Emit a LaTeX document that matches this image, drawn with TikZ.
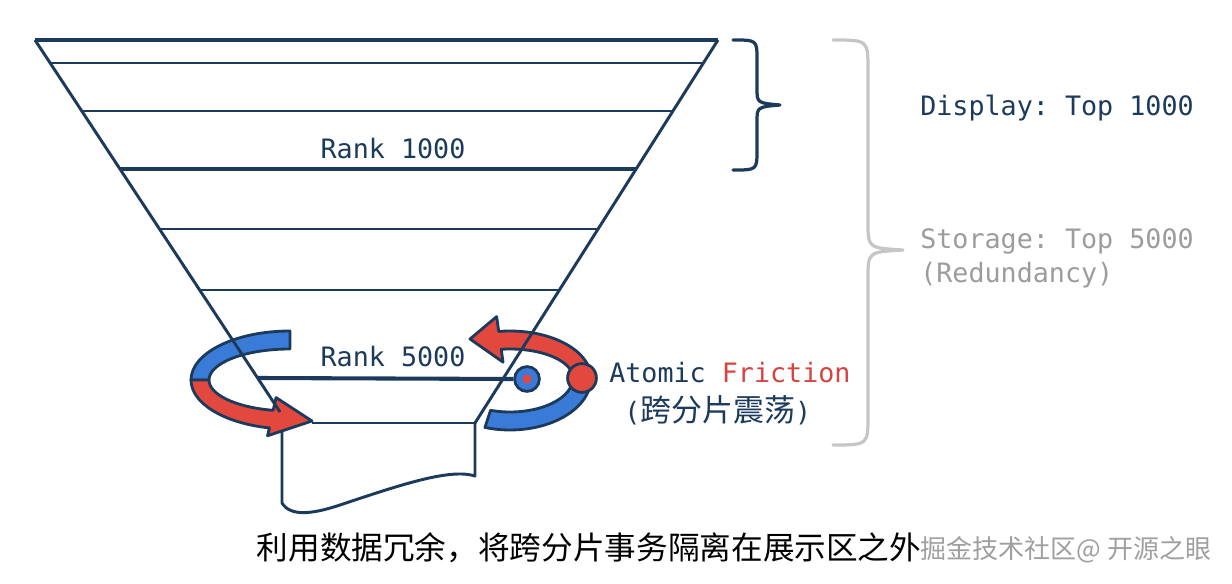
\documentclass[tikz,border=0pt]{standalone}
\usepackage{fontspec}
\setmonofont{DejaVu Sans Mono}
\newfontfamily\cjk{Noto Sans CJK SC}
\usetikzlibrary{calc}
\definecolor{colorMarino}{HTML}{1B3A5C}
\definecolor{colorAzul}{HTML}{3A7BD8}
\definecolor{colorRojo}{HTML}{E2483E}
\definecolor{colorRojoTexto}{HTML}{D6443F}
\definecolor{colorGris}{HTML}{C6C6C6}
\definecolor{colorGrisTexto}{HTML}{9C9C9C}

\begin{document}
\begin{tikzpicture}[
        x=0.025cm, y=-0.025cm,
        borde/.style={draw=colorMarino, line width=2.1pt, line join=round},
        fina/.style={draw=colorMarino, line width=1.3pt},
        gruesa/.style={draw=colorMarino, line width=2.9pt},
        cinta/.style={draw=colorMarino, line width=2pt, line join=round},
        llave/.style={line width=2.3pt, line cap=round, line join=round},
        txt/.style={font=\ttfamily\fontsize{19}{24}\selectfont, text=colorMarino, inner sep=0pt}
    ]
    \useasboundingbox (0,0) rectangle (1232,584);
    % esquinas del embudo
    \coordinate (ai) at (35,40);
    \coordinate (ad) at (718,40);
    \coordinate (bi) at (258,378);
    \coordinate (bd) at (503,378);
    \coordinate (L) at (290,380);
    \coordinate (R) at (510,378);

    % caja inferior
    \draw[fina] (312,423) -- (475,423);
    \draw[borde] (475,423) -- (475,476) .. controls (450,468) and (400,485) .. (340,505)
        .. controls (310,515) and (290,516) .. (282,503) -- (282,430);

    % cinta izquierda
    \filldraw[cinta, fill=colorAzul] ($(L)+(270:99 and 49)$) arc[start angle=270, end angle=180, x radius=99, y radius=49]
        -- ($(L)+(180:81 and 31)$) arc[start angle=180, end angle=270, x radius=81, y radius=31] -- cycle;
    \filldraw[cinta, fill=colorRojo] ($(L)+(180:99 and 49)$) arc[start angle=180, end angle=102, x radius=99, y radius=49]
        -- ($(L)+(102:108 and 57)$) -- (312,421) -- ($(L)+(102:67 and 18)$)
        -- ($(L)+(102:81 and 31)$) arc[start angle=102, end angle=180, x radius=81, y radius=31] -- cycle;

    % cinta derecha
    \filldraw[cinta, fill=colorAzul] ($(R)+(0:81 and 52)$) arc[start angle=0, end angle=108, x radius=81, y radius=52]
        -- ($(R)+(108:63 and 34)$) arc[start angle=108, end angle=0, x radius=63, y radius=34] -- cycle;
    \filldraw[cinta, fill=colorRojo] ($(R)+(0:81 and 47)$) arc[start angle=360, end angle=262, x radius=81, y radius=47]
        -- ($(R)+(262:96 and 62)$) -- (470,339) -- ($(R)+(262:50 and 16)$)
        -- ($(R)+(262:63 and 29)$) arc[start angle=262, end angle=360, x radius=63, y radius=29] -- cycle;

    % embudo
    \draw[borde] (280,412) -- (ai);
    \draw[borde] (ad) -- (475,423);
    \draw[gruesa] (ai) -- (ad);
    \foreach \t in {0.068,0.21,0.559,0.74}
        \draw[fina] ($(ai)!\t!(bi)$) -- ($(ad)!\t!(bd)$);
    \draw[gruesa] ($(ai)!0.382!(bi)$) -- ($(ad)!0.382!(bd)$);

    \node[circle, draw=colorMarino, line width=2pt, fill=colorRojo, minimum size=0.72cm, inner sep=0pt] (puntoRojo) at (582,378) {};
    \node[circle, draw=colorMarino, line width=2pt, fill=colorAzul, minimum size=0.62cm, inner sep=0pt] (puntoAzul) at (527,379) {};
    \fill[colorRojo] (puntoAzul.center) circle[radius=4.5];
    \draw[gruesa] (bi) -- (puntoAzul.west);

    % llaves
    \draw[llave, draw=colorMarino] (733,40) .. controls (757,40) .. (757,60) -- (757,88)
        .. controls (757,103) .. (780,105) .. controls (757,107) .. (757,122) -- (757,150)
        .. controls (757,170) .. (733,170);
    \draw[llave, draw=colorGris] (833,40) .. controls (868,40) .. (868,70) -- (868,222)
        .. controls (868,248) .. (903,250) .. controls (868,252) .. (868,278) -- (868,415)
        .. controls (868,445) .. (833,445);

    % textos
    \node[txt] (rank1000) at (393,149) {Rank 1000};
    \node[txt] (rank5000) at (393,357) {Rank 5000};
    \node[txt, anchor=west] (display) at (920,108) {Display: Top 1000};
    \node[txt, anchor=west, text=colorGrisTexto, align=left] (storage) at (920,258) {Storage: Top 5000\\(Redundancy)};
    \node[txt, anchor=west] (friccion) at (609,373) {Atomic \textcolor{colorRojoTexto}{Friction}};
    \node[txt, anchor=west] (sacudida) at (624,410) {({\cjk\fontsize{22}{26}\selectfont 跨分片震荡})};
    \node[font=\cjk\fontsize{22.5}{27}\selectfont, inner sep=0pt] (leyenda) at (589,548) {利用数据冗余，将跨分片事务隔离在展示区之外};
    \node[font=\cjk\fontsize{18.5}{22}\selectfont, text=gray!75, inner sep=0pt] (marca) at (1066,550) {掘金技术社区@ 开源之眼};
\end{tikzpicture}
\end{document}
